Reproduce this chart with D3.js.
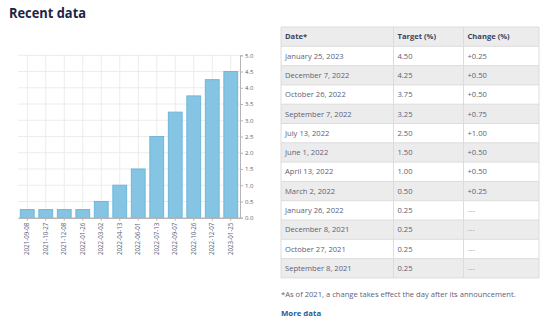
<!DOCTYPE html>
<html><head><meta charset="utf-8">
<script src="https://cdn.jsdelivr.net/npm/d3@7"></script>
<style>
html,body{margin:0;padding:0;background:#fff;}
svg{display:block;font-family:"Open Sans",sans-serif;}
</style></head>
<body><svg id="c" width="550" height="324"></svg>
<script>
const categories = ["2021-09-08","2021-10-27","2021-12-08","2022-01-26","2022-03-02","2022-04-13","2022-06-01","2022-07-13","2022-09-07","2022-10-26","2022-12-07","2023-01-25"];
const targetValues = [0.25,0.25,0.25,0.25,0.50,1.00,1.50,2.50,3.25,3.75,4.25,4.50];
const yTicks = [0,0.5,1,1.5,2,2.5,3,3.5,4,4.5,5];
const tableHeaders = ["Date*","Target (%)","Change (%)"];
const tableDates = ["January 25, 2023","December 7, 2022","October 26, 2022","September 7, 2022","July 13, 2022","June 1, 2022","April 13, 2022","March 2, 2022","January 26, 2022","December 8, 2021","October 27, 2021","September 8, 2021"];
const tableTargets = ["4.50","4.25","3.75","3.25","2.50","1.50","1.00","0.50","0.25","0.25","0.25","0.25"];
const tableChanges = ["+0.25","+0.50","+0.50","+0.75","+1.00","+0.50","+0.50","+0.25","---","---","---","---"];

const svg = d3.select("#c");
svg.append("text").attr("x",9).attr("y",18).text("Recent data")
  .attr("font-size",14.5).attr("font-weight",700).attr("fill","#1d2447")
  .attr("textLength",77).attr("lengthAdjust","spacingAndGlyphs");

// chart
const x = d3.scaleBand().domain(categories).range([18,240]).paddingInner(0.2).paddingOuter(0.1);
const y = d3.scaleLinear().domain([0,5]).range([217.7,55.3]);
const g = svg.append("g");
// grid
g.selectAll(".hg").data(yTicks.slice(1)).join("line")
  .attr("x1",18).attr("x2",240).attr("y1",d=>y(d)).attr("y2",d=>y(d))
  .attr("stroke","#ececec").attr("stroke-width",1);
g.selectAll(".vg").data(categories).join("line")
  .attr("x1",d=>x(d)+x.bandwidth()/2).attr("x2",d=>x(d)+x.bandwidth()/2)
  .attr("y1",y(5)).attr("y2",y(0))
  .attr("stroke","#ececec").attr("stroke-width",1);
// bars
g.selectAll(".bar").data(targetValues).join("rect")
  .attr("x",(d,i)=>x(categories[i])+0.5).attr("width",x.bandwidth()-1)
  .attr("y",d=>y(d)).attr("height",d=>y(0)-y(d))
  .attr("fill","#85c4e2").attr("stroke","#6fb7db").attr("stroke-width",1);
// y axis right
const ya = svg.append("g").attr("transform","translate(240,0)")
  .call(d3.axisRight(y).tickValues(yTicks).tickFormat(d3.format(".1f")).tickSize(3).tickPadding(2));
ya.select(".domain").attr("stroke","#b5b5b5");
ya.selectAll(".tick line").attr("stroke","#b5b5b5");
ya.selectAll("text").attr("font-size",6).attr("fill","#5a5f7a").attr("font-family","Open Sans");
// x axis bottom
const xa = svg.append("g").attr("transform",`translate(0,${y(0)})`)
  .call(d3.axisBottom(x).tickSize(3).tickSizeOuter(0).tickPadding(2));
xa.select(".domain").attr("stroke","#b5b5b5").attr("stroke-width",1.5);
xa.selectAll(".tick line").attr("stroke","#b5b5b5");
xa.selectAll("text").attr("font-size",6.2).attr("fill","#5a5f7a").attr("font-family","Open Sans")
  .attr("transform","rotate(-90)").attr("text-anchor","end").attr("dy","0.35em").attr("x",-5).attr("y",0);

// table
const tx = 281, tw = 258, ty = 27, rh = 19.3;
const colX = [281,393.5,463.5,539];
const t = svg.append("g");
const rows = [tableHeaders].concat(tableDates.map((d,i)=>[d,tableTargets[i],tableChanges[i]]));
t.selectAll(".rowbg").data(rows).join("rect")
  .attr("x",tx).attr("y",(d,i)=>ty+i*rh).attr("width",tw).attr("height",rh)
  .attr("fill",(d,i)=> i%2===0 ? "#ececec" : "#ffffff");
t.selectAll(".hl").data(d3.range(rows.length+1)).join("line")
  .attr("x1",tx).attr("x2",tx+tw).attr("y1",i=>ty+i*rh).attr("y2",i=>ty+i*rh)
  .attr("stroke","#dcdcdc").attr("stroke-width",1);
t.selectAll(".vl").data(colX).join("line")
  .attr("x1",d=>d).attr("x2",d=>d).attr("y1",ty).attr("y2",ty+rows.length*rh)
  .attr("stroke","#dcdcdc").attr("stroke-width",1);
rows.forEach((r,i)=>{
  r.forEach((c,j)=>{
    t.append("text").attr("x",colX[j]+4).attr("y",ty+i*rh+rh/2).attr("dy","0.35em")
      .text(c).attr("font-size",7.6)
      .attr("font-weight", i===0?700:400)
      .attr("fill", i===0?"#3d425c": (c==="---"?"#a0a3b5":"#5d6178"));
  });
});
svg.append("text").attr("x",281).attr("y",296.5).text("*As of 2021, a change takes effect the day after its announcement.")
  .attr("font-size",7.6).attr("fill","#5d6178");
svg.append("text").attr("x",281).attr("y",315.5).text("More data")
  .attr("font-size",7.8).attr("font-weight",700).attr("fill","#1f5e9c");
</script></body></html>
